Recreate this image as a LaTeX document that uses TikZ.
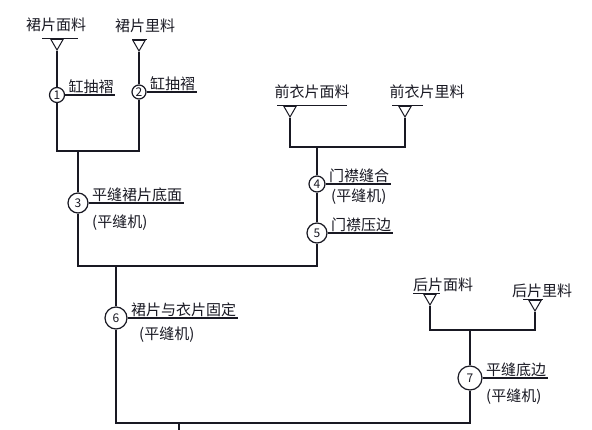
\documentclass[tikz,border=0pt]{standalone}
\usepackage{fontspec}
\newfontfamily\cjk{Noto Sans CJK SC}
\usetikzlibrary{shapes.geometric,calc}
\definecolor{ink}{RGB}{25,25,35}
\begin{document}
\begin{tikzpicture}[x=1pt,y=-1pt,line width=1.2pt,draw=ink,
  every node/.style={text=ink,font=\cjk\fontsize{15}{17}\selectfont},
  mat/.style={inner sep=1pt},
  tri/.style={draw,regular polygon,regular polygon sides=3,shape border rotate=180,minimum size=14pt,inner sep=0pt,line width=1pt},
  num/.style={draw,circle,inner sep=0pt,minimum size=#1,font=\cjk\fontsize{12}{13}\selectfont},
  num/.default=20pt,
  lab/.style={anchor=south west,inner sep=1pt,xshift=2pt},
  sub/.style={anchor=north west,inner sep=1pt}]
\fill[white] (0,0) rectangle (592,430);
\useasboundingbox (0,0) rectangle (592,430);

% materials
\node[mat] (m1) at (56,25) {裙片面料};
\node[mat] (m2) at (145,26) {裙片里料};
\node[mat] (m3) at (312,92) {前衣片面料};
\node[mat] (m4) at (427,92) {前衣片里料};
\node[mat] (m5) at (443,285) {后片面料};
\node[mat] (m6) at (542,291) {后片里料};

% triangles
\node[tri] (t1) at (57,43) {};
\node[tri] (t2) at (139,44) {};
\node[tri] (t3) at (290,110) {};
\node[tri] (t4) at (405,110) {};
\node[tri] (t5) at (430,298) {};
\node[tri] (t6) at (535,304) {};

% short underlines of materials
\draw[line width=1pt] ($(t1.north)+(-15,0)$) -- ($(t1.north)+(21,0)$);
\draw[line width=1pt] ($(t2.north)+(-7,0)$) -- ($(t2.north)+(8,0)$);
\draw[line width=1pt] ($(t3.north)+(-13,0)$) -- ($(t3.north)+(57,0)$);
\draw[line width=1pt] ($(t4.north)+(-13,0)$) -- ($(t4.north)+(18,0)$);
\draw[line width=1pt] ($(t5.north)+(-17,0)$) -- ($(t5.north)+(10,0)$);
\draw[line width=1pt] ($(t6.north)+(-12,0)$) -- ($(t6.north)+(8,0)$);

% process circles
\node[num=15pt] (c1) at (57,95) {1};
\node[num=14pt] (c2) at (139,92) {2};
\node[num=20pt] (c3) at (78,203) {3};
\node[num=16pt] (c4) at (317,184) {4};
\node[num=20pt] (c5) at (317,233) {5};
\node[num=22pt] (c6) at (116,318) {6};
\node[num=24pt] (c7) at (470,378) {7};

% labels
\node[lab] (l1) at (c1.east) {缸抽褶};
\node[lab] (l2) at (c2.east) {缸抽褶};
\node[lab] (l3) at (c3.east) {平缝裙片底面};
\node[sub] (s3) at ($(l3.south west)+(0,10)$) {(平缝机)};
\node[lab] (l4) at (c4.east) {门襟缝合};
\node[sub] (s4) at ($(l4.south west)+(2,3)$) {(平缝机)};
\node[lab] (l5) at (c5.east) {门襟压边};
\node[lab] (l6) at (c6.east) {裙片与衣片固定};
\node[sub] (s6) at ($(l6.south west)+(8,7)$) {(平缝机)};
\node[lab] (l7) at (c7.east) {平缝底边};
\node[sub] (s7) at ($(l7.south west)+(0,9)$) {(平缝机)};

\foreach \c/\l in {c1/l1,c2/l2,c3/l3,c4/l4,c5/l5,c6/l6,c7/l7}
  \draw (\c.east) -- (\l.south east);

% junction coordinates
\coordinate (j1) at (57,151);
\coordinate (j2) at (139,151);
\coordinate (j3) at (78,151);
\coordinate (j4) at (78,266);
\coordinate (j5) at (116,266);
\coordinate (j6) at (317,266);
\coordinate (j7) at (317,147);
\coordinate (j8) at (290,147);
\coordinate (j9) at (405,147);
\coordinate (j10) at (116,423);
\coordinate (j11) at (470,423);
\coordinate (j12) at (470,330);
\coordinate (j13) at (430,330);
\coordinate (j14) at (535,330);
\coordinate (j15) at (179,423);
\coordinate (j16) at (179,430);

% connectors
\draw (t1.south) -- (c1.north);
\draw (t2.south) -- (c2.north);
\draw (c1.south) -- (j1) -- (j2) -- (c2.south);
\draw (j3) -- (c3.north);
\draw (c3.south) -- (j4) -- (j6) -- (c5.south);
\draw (c5.north) -- (c4.south);
\draw (c4.north) -- (j7);
\draw (t3.south) -- (j8) -- (j9) -- (t4.south);
\draw (j5) -- (c6.north);
\draw (c6.south) -- (j10) -- (j11) -- (c7.south);
\draw (c7.north) -- (j12);
\draw (t5.south) -- (j13) -- (j14) -- (t6.south);
\draw (j15) -- (j16);
\end{tikzpicture}
\end{document}
